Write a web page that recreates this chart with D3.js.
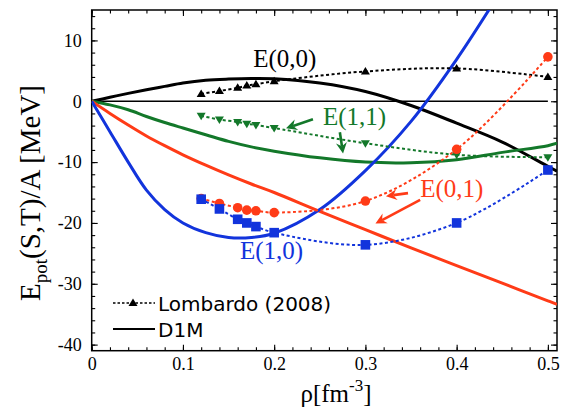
<!DOCTYPE html>
<html>
<head>
<meta charset="utf-8">
<script src="https://cdn.jsdelivr.net/npm/d3@7"></script>
<style>
  body { margin: 0; background: #fff; }
  svg { display: block; }
</style>
</head>
<body>
<svg id="chart" width="569" height="410"></svg>
<script>
// Lombardo (2008) points
const rhoLomb = [0.12, 0.14, 0.16, 0.17, 0.18, 0.2, 0.3, 0.4, 0.5];
const lomb00 = [1.2, 1.7, 2.2, 2.6, 2.8, 3.3, 4.9, 5.4, 4.0];
const lomb11 = [-2.4, -3.0, -3.4, -3.7, -3.9, -4.4, -6.9, -8.8, -9.2];
const lomb01 = [-16.0, -16.8, -17.5, -17.9, -18.0, -18.3, -16.4, -7.9, 7.3];
const lomb10 = [-16.1, -17.7, -19.4, -20.0, -20.6, -21.6, -23.6, -20.0, -11.3];

// D1M curves
const rhoD1M = [0, 0.02, 0.04, 0.06, 0.08, 0.1, 0.125, 0.15, 0.175, 0.2, 0.25, 0.3, 0.35, 0.4, 0.45, 0.5, 0.51];
const d1m00 = [0, 0.65, 1.3, 1.9, 2.45, 3.0, 3.45, 3.65, 3.75, 3.7, 3.0, 1.6, -0.7, -3.6, -6.7, -10.7, -11.5];
const d1m11 = [0, -0.6, -1.4, -2.5, -3.5, -4.4, -5.5, -6.6, -7.5, -8.2, -9.3, -10.0, -10.1, -9.6, -8.4, -7.3, -6.9];
const d1m01 = [0, -2.0, -3.9, -5.7, -7.3, -8.8, -10.5, -12.1, -13.6, -15.0, -18.1, -21.1, -24.1, -27.0, -29.9, -32.8, -33.4];
const d1m10 = [0, -5.0, -10.0, -14.6, -17.8, -20.0, -21.6, -22.4, -22.4, -21.7, -17.8, -11.4, -3.3, 6.9, 18.5, null, null];

// ticks
const xTickValues = [0, 0.1, 0.2, 0.3, 0.4, 0.5];
const xTickLabels = ['0', '0.1', '0.2', '0.3', '0.4', '0.5'];
const yTickValues = [-40, -30, -20, -10, 0, 10];
const yTickLabels = ['-40', '-30', '-20', '-10', '0', '10'];

// annotations (data units)
const seriesLabels = [
  {text: 'E(0,0)', at: [0.177, 5.7], key: 'k'},
  {text: 'E(1,1)', at: [0.2535, -3.9], key: 'g'},
  {text: 'E(0,1)', at: [0.36, -15.7], key: 'r'},
  {text: 'E(1,0)', at: [0.1625, -26.0], key: 'b'},
];
const arrows = [
  {from: [0.2425, -2.95], to: [0.213, -4.45], key: 'g'},
  {from: [0.272, -5.1], to: [0.2755, -8.6], key: 'g'},
  {from: [0.3467, -15.1], to: [0.3225, -15.6], key: 'r'},
  {from: [0.36, -16.2], to: [0.311, -20.1], key: 'r'},
];

const colors = {k: '#000000', g: '#13782a', r: '#ff3b17', b: '#1234dc'};
const serif = '"Liberation Serif", "Times New Roman", serif';
const sans = '"DejaVu Sans", Verdana, sans-serif';

const svg = d3.select('#chart');
const plotL = 91.7, plotR = 557, plotT = 10, plotB = 350.7;

const x = d3.scaleLinear().domain([0, 0.51]).range([plotL, plotR]);
const y = d3.scaleLinear().domain([-41, 15]).range([plotB, plotT]);

svg.append('defs').append('clipPath').attr('id', 'plot')
  .append('rect').attr('x', plotL).attr('y', plotT)
  .attr('width', plotR - plotL).attr('height', plotB - plotT);

// axes: major + minor, ticks inward on all four sides
const xMinor = d3.range(0, 0.511, 0.02);
const yMinor = d3.range(-40, 15, 2);

function styleAxis(g) {
  g.select('.domain').remove();
  g.selectAll('line').attr('stroke', '#000').attr('stroke-width', 1.1);
  g.selectAll('text').attr('font-family', serif).attr('font-size', 18).attr('fill', '#000');
}

svg.append('g').attr('transform', `translate(0,${plotB})`)
  .call(d3.axisBottom(x).tickValues(xTickValues).tickSize(-6).tickPadding(7)
    .tickFormat((d, i) => xTickLabels[i]))
  .call(styleAxis);
svg.append('g').attr('transform', `translate(0,${plotB})`)
  .call(d3.axisBottom(x).tickValues(xMinor).tickSize(-3.5).tickFormat(''))
  .call(styleAxis);
svg.append('g').attr('transform', `translate(0,${plotT})`)
  .call(d3.axisTop(x).tickValues(xTickValues).tickSize(-6).tickFormat(''))
  .call(styleAxis);
svg.append('g').attr('transform', `translate(0,${plotT})`)
  .call(d3.axisTop(x).tickValues(xMinor).tickSize(-3.5).tickFormat(''))
  .call(styleAxis);

svg.append('g').attr('transform', `translate(${plotL},0)`)
  .call(d3.axisLeft(y).tickValues(yTickValues).tickSize(-6).tickPadding(10)
    .tickFormat((d, i) => yTickLabels[i]))
  .call(styleAxis);
svg.append('g').attr('transform', `translate(${plotL},0)`)
  .call(d3.axisLeft(y).tickValues(yMinor).tickSize(-3.5).tickFormat(''))
  .call(styleAxis);
svg.append('g').attr('transform', `translate(${plotR},0)`)
  .call(d3.axisRight(y).tickValues(yTickValues).tickSize(-6).tickFormat(''))
  .call(styleAxis);
svg.append('g').attr('transform', `translate(${plotR},0)`)
  .call(d3.axisRight(y).tickValues(yMinor).tickSize(-3.5).tickFormat(''))
  .call(styleAxis);

svg.append('rect')
  .attr('x', plotL).attr('y', plotT)
  .attr('width', plotR - plotL).attr('height', plotB - plotT)
  .attr('fill', 'none').attr('stroke', '#000').attr('stroke-width', 1.5);

// zero line
svg.append('line')
  .attr('x1', x(0)).attr('x2', x(0.5))
  .attr('y1', y(0)).attr('y2', y(0))
  .attr('stroke', '#000').attr('stroke-width', 1.4);

const plot = svg.append('g').attr('clip-path', 'url(#plot)');

const line = d3.line()
  .defined(d => d[1] !== null)
  .x(d => x(d[0])).y(d => y(d[1]))
  .curve(d3.curveCatmullRom.alpha(0.5));

// D1M solid curves
[[d1m00, 'k'], [d1m11, 'g'], [d1m01, 'r'], [d1m10, 'b']].forEach(([vals, key]) => {
  plot.append('path')
    .attr('d', line(rhoD1M.map((r, i) => [r, vals[i]])))
    .attr('fill', 'none').attr('stroke', colors[key]).attr('stroke-width', 3);
});

// Lombardo dotted curves
[[lomb00, 'k'], [lomb11, 'g'], [lomb01, 'r'], [lomb10, 'b']].forEach(([vals, key]) => {
  plot.append('path')
    .attr('d', line(rhoLomb.map((r, i) => [r, vals[i]])))
    .attr('fill', 'none').attr('stroke', colors[key]).attr('stroke-width', 2)
    .attr('stroke-dasharray', '3,2.5');
});

// markers
function triPath(w, h, down) {
  const s = down ? -1 : 1;
  return `M0,${-s * h * 0.6}L${w / 2},${s * h * 0.4}L${-w / 2},${s * h * 0.4}Z`;
}
function drawMarkers(vals, key, shape) {
  const g = plot.append('g');
  const pts = rhoLomb.map((r, i) => [r, vals[i]]);
  if (shape === 'circle') {
    g.selectAll('circle').data(pts).join('circle')
      .attr('cx', d => x(d[0])).attr('cy', d => y(d[1])).attr('r', 4.8)
      .attr('fill', colors[key]);
  } else if (shape === 'square') {
    g.selectAll('rect').data(pts).join('rect')
      .attr('x', d => x(d[0]) - 4.8).attr('y', d => y(d[1]) - 4.8)
      .attr('width', 9.6).attr('height', 9.6).attr('fill', colors[key]);
  } else {
    g.selectAll('path').data(pts).join('path')
      .attr('transform', d => `translate(${x(d[0])},${y(d[1])})`)
      .attr('d', triPath(9, 7.5, shape === 'down')).attr('fill', colors[key]);
  }
}
drawMarkers(lomb00, 'k', 'up');
drawMarkers(lomb11, 'g', 'down');
drawMarkers(lomb01, 'r', 'circle');
drawMarkers(lomb10, 'b', 'square');

// arrows
arrows.forEach(a => {
  const x0 = x(a.from[0]), y0 = y(a.from[1]);
  const x1 = x(a.to[0]), y1 = y(a.to[1]);
  const len = Math.hypot(x1 - x0, y1 - y0);
  const ux = (x1 - x0) / len, uy = (y1 - y0) / len;
  const nx = -uy, ny = ux;
  const L = 11, W = 5.5, notch = 3.5;
  const bx = x1 - ux * L, by = y1 - uy * L;
  const mx = x1 - ux * (L - notch), my = y1 - uy * (L - notch);
  svg.append('line')
    .attr('x1', x0).attr('y1', y0).attr('x2', mx).attr('y2', my)
    .attr('stroke', colors[a.key]).attr('stroke-width', 2.6);
  svg.append('path')
    .attr('d', `M${x1},${y1}L${bx + nx * W},${by + ny * W}L${mx},${my}L${bx - nx * W},${by - ny * W}Z`)
    .attr('fill', colors[a.key]);
});

// series labels
seriesLabels.forEach(l => {
  svg.append('text')
    .attr('x', x(l.at[0])).attr('y', y(l.at[1]))
    .attr('font-family', serif).attr('font-size', 25)
    .attr('fill', colors[l.key])
    .text(l.text);
});

// legend
const legend = svg.append('g').attr('font-family', sans).attr('font-size', 20);
legend.append('line').attr('x1', 113).attr('x2', 155).attr('y1', 303).attr('y2', 303)
  .attr('stroke', '#000').attr('stroke-width', 1.6).attr('stroke-dasharray', '2.5,2');
legend.append('path').attr('transform', 'translate(133,303)').attr('d', triPath(9, 7.5, false));
legend.append('text').attr('x', 158).attr('y', 311).text('Lombardo (2008)');
legend.append('line').attr('x1', 113).attr('x2', 155).attr('y1', 329).attr('y2', 329)
  .attr('stroke', '#000').attr('stroke-width', 2);
legend.append('text').attr('x', 158).attr('y', 337).text('D1M');

// axis titles
const yTitle = svg.append('text')
  .attr('transform', 'translate(40,193) rotate(-90)')
  .attr('text-anchor', 'middle')
  .attr('font-family', serif).attr('font-size', 29);
yTitle.append('tspan').text('E');
yTitle.append('tspan').attr('font-size', 19).attr('dy', 7).text('pot');
yTitle.append('tspan').attr('dy', -7).text('(S,T)/A [MeV]');

const xTitle = svg.append('text')
  .attr('x', 336).attr('y', 402)
  .attr('text-anchor', 'middle')
  .attr('font-family', serif).attr('font-size', 25);
xTitle.append('tspan').text('ρ[fm');
xTitle.append('tspan').attr('font-size', 17).attr('dy', -11).text('-3');
xTitle.append('tspan').attr('dy', 11).text(']');
</script>
</body>
</html>
